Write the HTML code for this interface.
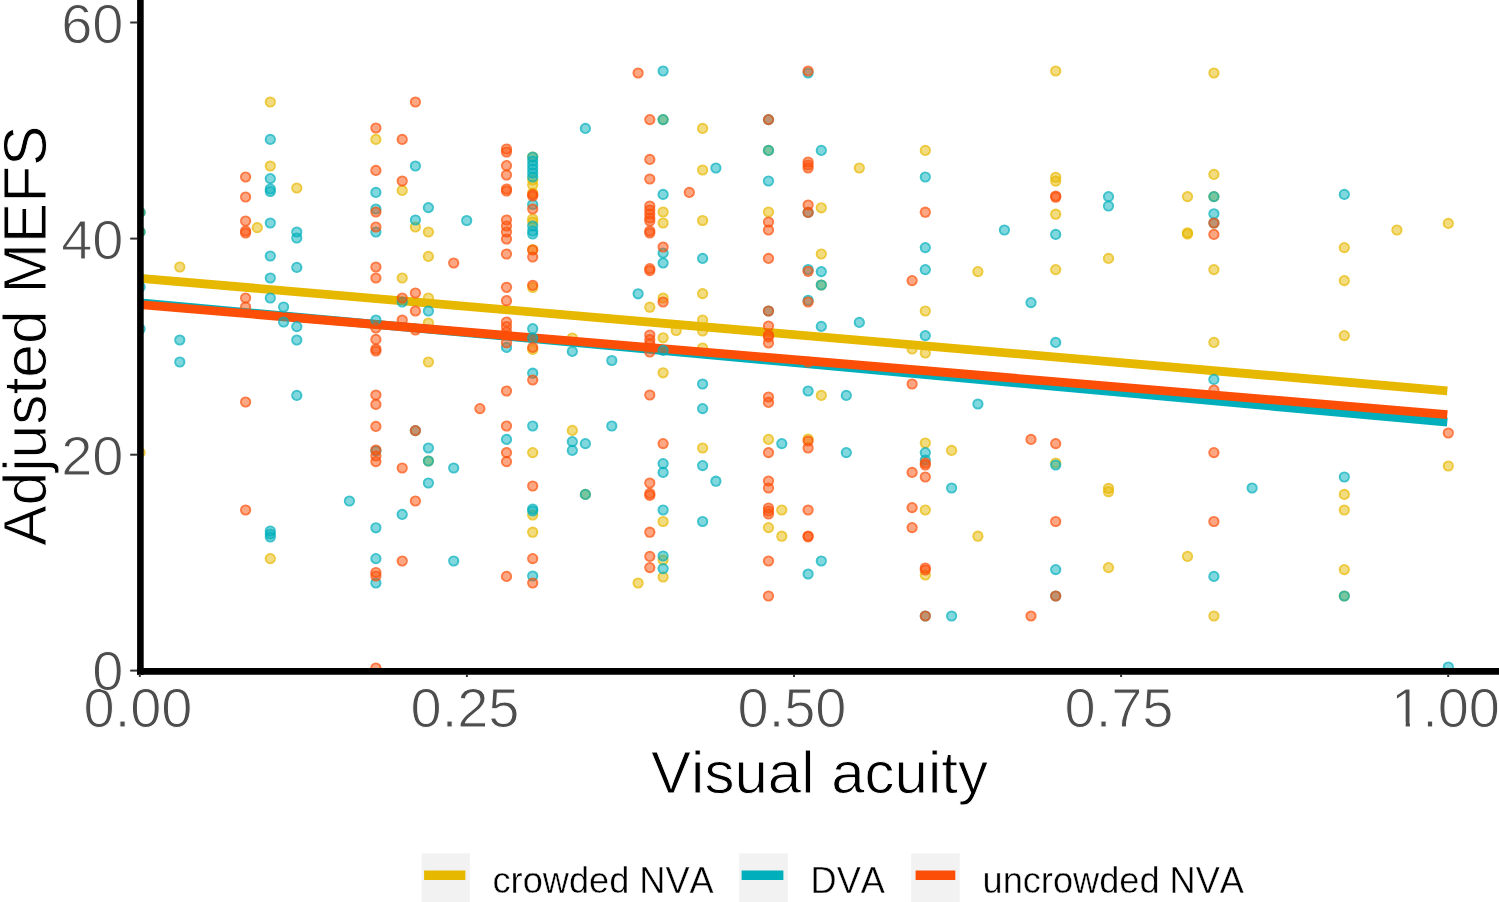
<!DOCTYPE html>
<html><head><meta charset="utf-8"><title>Adjusted MEFS vs Visual acuity</title>
<style>
html,body{margin:0;padding:0;background:#fff;}
body{width:1499px;height:902px;overflow:hidden;position:relative;font-family:"Liberation Sans",sans-serif;}
svg{position:absolute;left:0;top:0;display:block;}
text{font-family:"Liberation Sans",sans-serif;font-kerning:none;}
.tick{font-size:56px;fill:#4D4D4D;stroke:#fff;stroke-width:1px;}
.title{font-size:60px;fill:#000;stroke:#fff;stroke-width:.9px;}
.leg{font-size:36.2px;fill:#000;stroke:#fff;stroke-width:.4px;}
</style></head><body>
<svg width="1499" height="902" viewBox="0 0 1499 902">
<rect width="1499" height="902" fill="#fff"/>
<defs><radialGradient id="gy"><stop offset="0" stop-color="#E7B800" stop-opacity=".5"/><stop offset=".6" stop-color="#E7B800" stop-opacity=".5"/><stop offset=".68" stop-color="#E7B800" stop-opacity=".75"/><stop offset="1" stop-color="#E7B800" stop-opacity=".75"/></radialGradient><radialGradient id="gt"><stop offset="0" stop-color="#00AFBB" stop-opacity=".5"/><stop offset=".6" stop-color="#00AFBB" stop-opacity=".5"/><stop offset=".68" stop-color="#00AFBB" stop-opacity=".75"/><stop offset="1" stop-color="#00AFBB" stop-opacity=".75"/></radialGradient><radialGradient id="go"><stop offset="0" stop-color="#FC4E07" stop-opacity=".5"/><stop offset=".6" stop-color="#FC4E07" stop-opacity=".5"/><stop offset=".68" stop-color="#FC4E07" stop-opacity=".75"/><stop offset="1" stop-color="#FC4E07" stop-opacity=".75"/></radialGradient><clipPath id="panel"><rect x="140.4" y="-10" width="1400" height="681.4"/></clipPath></defs>
<g clip-path="url(#panel)" fill="url(#gy)"><circle cx="140.1" cy="212.4" r="5.6"/><circle cx="140.1" cy="232.0" r="5.6"/><circle cx="140.1" cy="452.6" r="5.6"/><circle cx="179.8" cy="267.0" r="5.6"/><circle cx="257.3" cy="227.6" r="5.6"/><circle cx="270.3" cy="102.0" r="5.6"/><circle cx="270.3" cy="166.0" r="5.6"/><circle cx="270.3" cy="558.6" r="5.6"/><circle cx="296.8" cy="188.0" r="5.6"/><circle cx="375.9" cy="139.4" r="5.6"/><circle cx="402.2" cy="190.4" r="5.6"/><circle cx="402.2" cy="278.0" r="5.6"/><circle cx="415.4" cy="227.0" r="5.6"/><circle cx="428.4" cy="232.0" r="5.6"/><circle cx="428.4" cy="256.4" r="5.6"/><circle cx="428.4" cy="298.0" r="5.6"/><circle cx="428.4" cy="323.0" r="5.6"/><circle cx="428.4" cy="362.0" r="5.6"/><circle cx="428.4" cy="461.0" r="5.6"/><circle cx="532.7" cy="157.0" r="5.6"/><circle cx="532.7" cy="180.0" r="5.6"/><circle cx="532.7" cy="185.0" r="5.6"/><circle cx="532.7" cy="193.0" r="5.6"/><circle cx="532.7" cy="219.0" r="5.6"/><circle cx="532.7" cy="222.0" r="5.6"/><circle cx="532.7" cy="287.5" r="5.6"/><circle cx="532.7" cy="349.4" r="5.6"/><circle cx="532.7" cy="452.6" r="5.6"/><circle cx="532.7" cy="515.0" r="5.6"/><circle cx="532.7" cy="532.2" r="5.6"/><circle cx="572.3" cy="338.0" r="5.6"/><circle cx="572.3" cy="430.4" r="5.6"/><circle cx="585.4" cy="494.4" r="5.6"/><circle cx="638.1" cy="583.0" r="5.6"/><circle cx="649.8" cy="307.2" r="5.6"/><circle cx="663.1" cy="119.6" r="5.6"/><circle cx="663.1" cy="212.0" r="5.6"/><circle cx="663.1" cy="223.0" r="5.6"/><circle cx="663.1" cy="298.0" r="5.6"/><circle cx="663.1" cy="337.8" r="5.6"/><circle cx="663.1" cy="372.8" r="5.6"/><circle cx="663.1" cy="521.5" r="5.6"/><circle cx="663.1" cy="560.0" r="5.6"/><circle cx="663.1" cy="577.0" r="5.6"/><circle cx="676.2" cy="330.5" r="5.6"/><circle cx="702.6" cy="128.4" r="5.6"/><circle cx="702.6" cy="170.0" r="5.6"/><circle cx="702.6" cy="220.5" r="5.6"/><circle cx="702.6" cy="293.6" r="5.6"/><circle cx="702.6" cy="320.0" r="5.6"/><circle cx="702.6" cy="331.0" r="5.6"/><circle cx="702.6" cy="348.0" r="5.6"/><circle cx="702.6" cy="448.0" r="5.6"/><circle cx="768.5" cy="150.4" r="5.6"/><circle cx="768.5" cy="212.0" r="5.6"/><circle cx="768.5" cy="439.4" r="5.6"/><circle cx="768.5" cy="527.6" r="5.6"/><circle cx="781.8" cy="510.0" r="5.6"/><circle cx="781.8" cy="536.2" r="5.6"/><circle cx="808.1" cy="439.0" r="5.6"/><circle cx="821.3" cy="207.8" r="5.6"/><circle cx="821.3" cy="254.0" r="5.6"/><circle cx="821.3" cy="285.0" r="5.6"/><circle cx="821.3" cy="395.4" r="5.6"/><circle cx="859.3" cy="168.0" r="5.6"/><circle cx="912.1" cy="349.0" r="5.6"/><circle cx="925.3" cy="150.4" r="5.6"/><circle cx="925.3" cy="311.0" r="5.6"/><circle cx="925.3" cy="353.0" r="5.6"/><circle cx="925.3" cy="443.0" r="5.6"/><circle cx="925.3" cy="510.0" r="5.6"/><circle cx="925.3" cy="575.0" r="5.6"/><circle cx="951.6" cy="450.4" r="5.6"/><circle cx="977.9" cy="271.6" r="5.6"/><circle cx="977.9" cy="536.2" r="5.6"/><circle cx="1055.7" cy="71.0" r="5.6"/><circle cx="1055.7" cy="177.3" r="5.6"/><circle cx="1055.7" cy="181.1" r="5.6"/><circle cx="1055.7" cy="214.2" r="5.6"/><circle cx="1055.7" cy="269.6" r="5.6"/><circle cx="1055.7" cy="463.0" r="5.6"/><circle cx="1108.5" cy="258.4" r="5.6"/><circle cx="1108.5" cy="488.3" r="5.6"/><circle cx="1108.5" cy="491.7" r="5.6"/><circle cx="1108.5" cy="567.6" r="5.6"/><circle cx="1187.5" cy="196.6" r="5.6"/><circle cx="1187.5" cy="232.8" r="5.6"/><circle cx="1187.5" cy="234.0" r="5.6"/><circle cx="1187.5" cy="556.4" r="5.6"/><circle cx="1213.9" cy="73.0" r="5.6"/><circle cx="1213.9" cy="174.4" r="5.6"/><circle cx="1213.9" cy="196.6" r="5.6"/><circle cx="1213.9" cy="269.6" r="5.6"/><circle cx="1213.9" cy="342.4" r="5.6"/><circle cx="1213.9" cy="616.0" r="5.6"/><circle cx="1344.3" cy="247.6" r="5.6"/><circle cx="1344.3" cy="280.6" r="5.6"/><circle cx="1344.3" cy="335.6" r="5.6"/><circle cx="1344.3" cy="494.4" r="5.6"/><circle cx="1344.3" cy="510.0" r="5.6"/><circle cx="1344.3" cy="569.6" r="5.6"/><circle cx="1344.3" cy="596.0" r="5.6"/><circle cx="1396.9" cy="230.0" r="5.6"/><circle cx="1448.3" cy="223.4" r="5.6"/><circle cx="1448.3" cy="466.0" r="5.6"/><circle cx="532.7" cy="249.5" r="5.6"/></g>
<g fill="none" stroke-width="8.8" stroke-linecap="butt">
<line x1="140.4" y1="278.3" x2="1447.3" y2="390.8" stroke="#E7B800"/>
<line x1="140.4" y1="302.9" x2="1447.3" y2="422.2" stroke="#00AFBB"/>
<line x1="140.4" y1="304.7" x2="1447.3" y2="414.6" stroke="#FC4E07"/>
</g>
<g clip-path="url(#panel)" fill="url(#gt)"><circle cx="140.1" cy="212.4" r="5.6"/><circle cx="140.1" cy="232.0" r="5.6"/><circle cx="140.1" cy="287.0" r="5.6"/><circle cx="140.1" cy="329.0" r="5.6"/><circle cx="179.8" cy="340.0" r="5.6"/><circle cx="179.8" cy="362.0" r="5.6"/><circle cx="270.3" cy="139.4" r="5.6"/><circle cx="270.3" cy="178.6" r="5.6"/><circle cx="270.3" cy="189.0" r="5.6"/><circle cx="270.3" cy="191.5" r="5.6"/><circle cx="270.3" cy="223.0" r="5.6"/><circle cx="270.3" cy="256.0" r="5.6"/><circle cx="270.3" cy="278.0" r="5.6"/><circle cx="270.3" cy="298.0" r="5.6"/><circle cx="270.3" cy="531.0" r="5.6"/><circle cx="270.3" cy="534.0" r="5.6"/><circle cx="270.3" cy="537.0" r="5.6"/><circle cx="283.6" cy="307.0" r="5.6"/><circle cx="283.6" cy="322.0" r="5.6"/><circle cx="296.8" cy="232.0" r="5.6"/><circle cx="296.8" cy="238.0" r="5.6"/><circle cx="296.8" cy="267.4" r="5.6"/><circle cx="296.8" cy="326.6" r="5.6"/><circle cx="296.8" cy="340.0" r="5.6"/><circle cx="296.8" cy="395.4" r="5.6"/><circle cx="349.4" cy="501.0" r="5.6"/><circle cx="375.9" cy="192.4" r="5.6"/><circle cx="375.9" cy="209.0" r="5.6"/><circle cx="375.9" cy="232.0" r="5.6"/><circle cx="375.9" cy="320.0" r="5.6"/><circle cx="375.9" cy="451.0" r="5.6"/><circle cx="375.9" cy="527.8" r="5.6"/><circle cx="375.9" cy="558.6" r="5.6"/><circle cx="375.9" cy="583.0" r="5.6"/><circle cx="402.2" cy="302.0" r="5.6"/><circle cx="402.2" cy="514.4" r="5.6"/><circle cx="415.4" cy="166.0" r="5.6"/><circle cx="415.4" cy="220.0" r="5.6"/><circle cx="415.4" cy="430.6" r="5.6"/><circle cx="428.4" cy="207.6" r="5.6"/><circle cx="428.4" cy="311.0" r="5.6"/><circle cx="428.4" cy="448.0" r="5.6"/><circle cx="428.4" cy="461.0" r="5.6"/><circle cx="428.4" cy="483.0" r="5.6"/><circle cx="453.7" cy="468.0" r="5.6"/><circle cx="453.7" cy="561.0" r="5.6"/><circle cx="466.7" cy="220.5" r="5.6"/><circle cx="506.5" cy="347.4" r="5.6"/><circle cx="506.5" cy="439.4" r="5.6"/><circle cx="532.7" cy="157.0" r="5.6"/><circle cx="532.7" cy="161.0" r="5.6"/><circle cx="532.7" cy="165.0" r="5.6"/><circle cx="532.7" cy="169.0" r="5.6"/><circle cx="532.7" cy="173.0" r="5.6"/><circle cx="532.7" cy="177.0" r="5.6"/><circle cx="532.7" cy="204.5" r="5.6"/><circle cx="532.7" cy="226.0" r="5.6"/><circle cx="532.7" cy="231.0" r="5.6"/><circle cx="532.7" cy="234.0" r="5.6"/><circle cx="532.7" cy="328.7" r="5.6"/><circle cx="532.7" cy="338.0" r="5.6"/><circle cx="532.7" cy="373.2" r="5.6"/><circle cx="532.7" cy="426.0" r="5.6"/><circle cx="532.7" cy="509.0" r="5.6"/><circle cx="532.7" cy="511.0" r="5.6"/><circle cx="532.7" cy="576.0" r="5.6"/><circle cx="572.3" cy="351.4" r="5.6"/><circle cx="572.3" cy="441.6" r="5.6"/><circle cx="572.3" cy="450.4" r="5.6"/><circle cx="585.4" cy="128.4" r="5.6"/><circle cx="585.4" cy="443.6" r="5.6"/><circle cx="585.4" cy="494.4" r="5.6"/><circle cx="611.8" cy="360.5" r="5.6"/><circle cx="611.8" cy="426.0" r="5.6"/><circle cx="638.1" cy="293.8" r="5.6"/><circle cx="663.1" cy="71.0" r="5.6"/><circle cx="663.1" cy="119.6" r="5.6"/><circle cx="663.1" cy="194.4" r="5.6"/><circle cx="663.1" cy="253.0" r="5.6"/><circle cx="663.1" cy="263.0" r="5.6"/><circle cx="663.1" cy="350.4" r="5.6"/><circle cx="663.1" cy="463.6" r="5.6"/><circle cx="663.1" cy="472.4" r="5.6"/><circle cx="663.1" cy="510.0" r="5.6"/><circle cx="663.1" cy="556.0" r="5.6"/><circle cx="663.1" cy="568.6" r="5.6"/><circle cx="702.6" cy="258.4" r="5.6"/><circle cx="702.6" cy="384.0" r="5.6"/><circle cx="702.6" cy="408.6" r="5.6"/><circle cx="702.6" cy="465.6" r="5.6"/><circle cx="702.6" cy="521.5" r="5.6"/><circle cx="715.9" cy="168.0" r="5.6"/><circle cx="715.9" cy="481.2" r="5.6"/><circle cx="768.5" cy="119.6" r="5.6"/><circle cx="768.5" cy="150.4" r="5.6"/><circle cx="768.5" cy="181.0" r="5.6"/><circle cx="768.5" cy="311.0" r="5.6"/><circle cx="781.8" cy="443.6" r="5.6"/><circle cx="808.1" cy="73.0" r="5.6"/><circle cx="808.1" cy="212.4" r="5.6"/><circle cx="808.1" cy="269.5" r="5.6"/><circle cx="808.1" cy="300.3" r="5.6"/><circle cx="808.1" cy="391.0" r="5.6"/><circle cx="808.1" cy="574.0" r="5.6"/><circle cx="821.3" cy="150.4" r="5.6"/><circle cx="821.3" cy="271.6" r="5.6"/><circle cx="821.3" cy="285.0" r="5.6"/><circle cx="821.3" cy="326.4" r="5.6"/><circle cx="821.3" cy="561.0" r="5.6"/><circle cx="846.3" cy="395.4" r="5.6"/><circle cx="846.3" cy="452.6" r="5.6"/><circle cx="859.3" cy="322.4" r="5.6"/><circle cx="925.3" cy="177.0" r="5.6"/><circle cx="925.3" cy="247.6" r="5.6"/><circle cx="925.3" cy="269.6" r="5.6"/><circle cx="925.3" cy="335.6" r="5.6"/><circle cx="925.3" cy="452.6" r="5.6"/><circle cx="925.3" cy="460.0" r="5.6"/><circle cx="925.3" cy="616.0" r="5.6"/><circle cx="951.6" cy="488.0" r="5.6"/><circle cx="951.6" cy="616.0" r="5.6"/><circle cx="977.9" cy="404.0" r="5.6"/><circle cx="1004.4" cy="230.0" r="5.6"/><circle cx="1031.0" cy="302.6" r="5.6"/><circle cx="1055.7" cy="234.4" r="5.6"/><circle cx="1055.7" cy="342.4" r="5.6"/><circle cx="1055.7" cy="465.0" r="5.6"/><circle cx="1055.7" cy="569.6" r="5.6"/><circle cx="1055.7" cy="596.0" r="5.6"/><circle cx="1108.5" cy="196.6" r="5.6"/><circle cx="1108.5" cy="206.0" r="5.6"/><circle cx="1213.9" cy="196.6" r="5.6"/><circle cx="1213.9" cy="213.8" r="5.6"/><circle cx="1213.9" cy="223.0" r="5.6"/><circle cx="1213.9" cy="379.4" r="5.6"/><circle cx="1213.9" cy="576.4" r="5.6"/><circle cx="1252.1" cy="488.0" r="5.6"/><circle cx="1344.3" cy="194.4" r="5.6"/><circle cx="1344.3" cy="477.0" r="5.6"/><circle cx="1344.3" cy="596.0" r="5.6"/><circle cx="1448.3" cy="667.0" r="5.6"/></g>
<g clip-path="url(#panel)" fill="url(#go)"><circle cx="245.6" cy="177.0" r="5.6"/><circle cx="245.6" cy="197.0" r="5.6"/><circle cx="245.6" cy="221.0" r="5.6"/><circle cx="245.6" cy="231.0" r="5.6"/><circle cx="245.6" cy="233.0" r="5.6"/><circle cx="245.6" cy="298.0" r="5.6"/><circle cx="245.6" cy="307.0" r="5.6"/><circle cx="245.6" cy="402.0" r="5.6"/><circle cx="245.6" cy="510.0" r="5.6"/><circle cx="375.9" cy="128.0" r="5.6"/><circle cx="375.9" cy="170.4" r="5.6"/><circle cx="375.9" cy="212.0" r="5.6"/><circle cx="375.9" cy="227.0" r="5.6"/><circle cx="375.9" cy="267.0" r="5.6"/><circle cx="375.9" cy="278.0" r="5.6"/><circle cx="375.9" cy="328.0" r="5.6"/><circle cx="375.9" cy="339.4" r="5.6"/><circle cx="375.9" cy="349.0" r="5.6"/><circle cx="375.9" cy="351.0" r="5.6"/><circle cx="375.9" cy="395.0" r="5.6"/><circle cx="375.9" cy="404.4" r="5.6"/><circle cx="375.9" cy="426.4" r="5.6"/><circle cx="375.9" cy="450.0" r="5.6"/><circle cx="375.9" cy="456.0" r="5.6"/><circle cx="375.9" cy="461.6" r="5.6"/><circle cx="375.9" cy="572.5" r="5.6"/><circle cx="375.9" cy="576.0" r="5.6"/><circle cx="375.9" cy="668.0" r="5.6"/><circle cx="402.2" cy="139.4" r="5.6"/><circle cx="402.2" cy="181.0" r="5.6"/><circle cx="402.2" cy="298.0" r="5.6"/><circle cx="402.2" cy="320.0" r="5.6"/><circle cx="402.2" cy="468.0" r="5.6"/><circle cx="402.2" cy="561.0" r="5.6"/><circle cx="415.4" cy="102.0" r="5.6"/><circle cx="415.4" cy="293.0" r="5.6"/><circle cx="415.4" cy="311.0" r="5.6"/><circle cx="415.4" cy="330.0" r="5.6"/><circle cx="415.4" cy="430.6" r="5.6"/><circle cx="415.4" cy="501.0" r="5.6"/><circle cx="453.7" cy="263.0" r="5.6"/><circle cx="479.9" cy="408.6" r="5.6"/><circle cx="506.5" cy="149.0" r="5.6"/><circle cx="506.5" cy="152.0" r="5.6"/><circle cx="506.5" cy="165.6" r="5.6"/><circle cx="506.5" cy="175.0" r="5.6"/><circle cx="506.5" cy="189.0" r="5.6"/><circle cx="506.5" cy="191.0" r="5.6"/><circle cx="506.5" cy="220.0" r="5.6"/><circle cx="506.5" cy="226.0" r="5.6"/><circle cx="506.5" cy="232.0" r="5.6"/><circle cx="506.5" cy="239.0" r="5.6"/><circle cx="506.5" cy="254.0" r="5.6"/><circle cx="506.5" cy="287.3" r="5.6"/><circle cx="506.5" cy="300.7" r="5.6"/><circle cx="506.5" cy="322.0" r="5.6"/><circle cx="506.5" cy="326.7" r="5.6"/><circle cx="506.5" cy="332.0" r="5.6"/><circle cx="506.5" cy="342.7" r="5.6"/><circle cx="506.5" cy="391.0" r="5.6"/><circle cx="506.5" cy="426.0" r="5.6"/><circle cx="506.5" cy="452.6" r="5.6"/><circle cx="506.5" cy="461.6" r="5.6"/><circle cx="506.5" cy="576.4" r="5.6"/><circle cx="532.7" cy="194.4" r="5.6"/><circle cx="532.7" cy="196.0" r="5.6"/><circle cx="532.7" cy="209.0" r="5.6"/><circle cx="532.7" cy="250.0" r="5.6"/><circle cx="532.7" cy="257.0" r="5.6"/><circle cx="532.7" cy="285.3" r="5.6"/><circle cx="532.7" cy="347.4" r="5.6"/><circle cx="532.7" cy="380.0" r="5.6"/><circle cx="532.7" cy="486.0" r="5.6"/><circle cx="532.7" cy="558.6" r="5.6"/><circle cx="532.7" cy="583.0" r="5.6"/><circle cx="638.1" cy="73.0" r="5.6"/><circle cx="649.8" cy="119.6" r="5.6"/><circle cx="649.8" cy="159.4" r="5.6"/><circle cx="649.8" cy="179.0" r="5.6"/><circle cx="649.8" cy="206.0" r="5.6"/><circle cx="649.8" cy="210.0" r="5.6"/><circle cx="649.8" cy="214.0" r="5.6"/><circle cx="649.8" cy="218.0" r="5.6"/><circle cx="649.8" cy="221.0" r="5.6"/><circle cx="649.8" cy="231.0" r="5.6"/><circle cx="649.8" cy="233.0" r="5.6"/><circle cx="649.8" cy="268.6" r="5.6"/><circle cx="649.8" cy="270.6" r="5.6"/><circle cx="649.8" cy="335.0" r="5.6"/><circle cx="649.8" cy="339.7" r="5.6"/><circle cx="649.8" cy="344.0" r="5.6"/><circle cx="649.8" cy="352.0" r="5.6"/><circle cx="649.8" cy="395.0" r="5.6"/><circle cx="649.8" cy="483.0" r="5.6"/><circle cx="649.8" cy="493.4" r="5.6"/><circle cx="649.8" cy="495.4" r="5.6"/><circle cx="649.8" cy="532.2" r="5.6"/><circle cx="649.8" cy="556.4" r="5.6"/><circle cx="649.8" cy="567.6" r="5.6"/><circle cx="663.1" cy="247.0" r="5.6"/><circle cx="663.1" cy="302.0" r="5.6"/><circle cx="663.1" cy="443.6" r="5.6"/><circle cx="689.3" cy="192.4" r="5.6"/><circle cx="768.5" cy="119.6" r="5.6"/><circle cx="768.5" cy="222.0" r="5.6"/><circle cx="768.5" cy="230.0" r="5.6"/><circle cx="768.5" cy="258.4" r="5.6"/><circle cx="768.5" cy="311.0" r="5.6"/><circle cx="768.5" cy="326.0" r="5.6"/><circle cx="768.5" cy="335.0" r="5.6"/><circle cx="768.5" cy="337.0" r="5.6"/><circle cx="768.5" cy="343.0" r="5.6"/><circle cx="768.5" cy="397.0" r="5.6"/><circle cx="768.5" cy="402.4" r="5.6"/><circle cx="768.5" cy="452.6" r="5.6"/><circle cx="768.5" cy="481.0" r="5.6"/><circle cx="768.5" cy="488.0" r="5.6"/><circle cx="768.5" cy="508.0" r="5.6"/><circle cx="768.5" cy="511.0" r="5.6"/><circle cx="768.5" cy="514.0" r="5.6"/><circle cx="768.5" cy="561.0" r="5.6"/><circle cx="768.5" cy="596.0" r="5.6"/><circle cx="808.1" cy="71.0" r="5.6"/><circle cx="808.1" cy="162.0" r="5.6"/><circle cx="808.1" cy="165.0" r="5.6"/><circle cx="808.1" cy="168.0" r="5.6"/><circle cx="808.1" cy="205.0" r="5.6"/><circle cx="808.1" cy="212.4" r="5.6"/><circle cx="808.1" cy="271.3" r="5.6"/><circle cx="808.1" cy="302.0" r="5.6"/><circle cx="808.1" cy="362.0" r="5.6"/><circle cx="808.1" cy="441.0" r="5.6"/><circle cx="808.1" cy="448.0" r="5.6"/><circle cx="808.1" cy="510.0" r="5.6"/><circle cx="808.1" cy="536.0" r="5.6"/><circle cx="808.1" cy="536.8" r="5.6"/><circle cx="912.1" cy="280.6" r="5.6"/><circle cx="912.1" cy="384.0" r="5.6"/><circle cx="912.1" cy="472.4" r="5.6"/><circle cx="912.1" cy="507.6" r="5.6"/><circle cx="912.1" cy="527.6" r="5.6"/><circle cx="925.3" cy="212.2" r="5.6"/><circle cx="925.3" cy="463.0" r="5.6"/><circle cx="925.3" cy="465.0" r="5.6"/><circle cx="925.3" cy="477.0" r="5.6"/><circle cx="925.3" cy="568.0" r="5.6"/><circle cx="925.3" cy="570.0" r="5.6"/><circle cx="925.3" cy="616.0" r="5.6"/><circle cx="1031.0" cy="439.4" r="5.6"/><circle cx="1031.0" cy="616.0" r="5.6"/><circle cx="1055.7" cy="196.0" r="5.6"/><circle cx="1055.7" cy="197.2" r="5.6"/><circle cx="1055.7" cy="443.6" r="5.6"/><circle cx="1055.7" cy="521.5" r="5.6"/><circle cx="1055.7" cy="596.0" r="5.6"/><circle cx="1213.9" cy="223.0" r="5.6"/><circle cx="1213.9" cy="234.4" r="5.6"/><circle cx="1213.9" cy="390.0" r="5.6"/><circle cx="1213.9" cy="452.6" r="5.6"/><circle cx="1213.9" cy="521.5" r="5.6"/><circle cx="1448.3" cy="433.0" r="5.6"/></g>
<g stroke="#000" stroke-width="6.6" fill="none">
<line x1="140.4" y1="-5" x2="140.4" y2="674.7"/>
<line x1="137.1" y1="671.4" x2="1505" y2="671.4"/>
</g>
<g stroke="#333" stroke-width="2" fill="none">
<line x1="130.2" y1="22.5" x2="137.2" y2="22.5"/>
<line x1="130.2" y1="238.6" x2="137.2" y2="238.6"/>
<line x1="130.2" y1="454.7" x2="137.2" y2="454.7"/>
<line x1="130.2" y1="670.6" x2="137.2" y2="670.6"/>
<line x1="139.8" y1="674" x2="139.8" y2="677"/>
<line x1="466.9" y1="674" x2="466.9" y2="677"/>
<line x1="794.0" y1="674" x2="794.0" y2="677"/>
<line x1="1121.1" y1="674" x2="1121.1" y2="677"/>
<line x1="1448.2" y1="674" x2="1448.2" y2="677"/>
</g>
<g class="tick" text-anchor="middle">
<text x="138.0" y="727">0.00</text>
<text x="465.0" y="727">0.25</text>
<text x="792.0" y="727">0.50</text>
<text x="1119.0" y="727">0.75</text>
<text x="1445.5" y="727">1.00</text>
</g>
<rect x="1394.5" y="722.3" width="11.2" height="5.4" fill="#fff"/><rect x="1409.9" y="722.3" width="10" height="5.4" fill="#fff"/>
<g class="tick" text-anchor="end">
<text x="123.5" y="43.0">60</text>
<text x="123.5" y="259.3">40</text>
<text x="123.5" y="475.4">20</text>
<text x="123.5" y="689.5">0</text>
</g>
<text class="title" x="819.5" y="792.6" text-anchor="middle">Visual acuity</text>
<text class="title" transform="translate(46.3,335.7) rotate(-90)" style="font-size:60.5px" text-anchor="middle">Adjusted MEFS</text>
<g>
<rect x="421.6" y="853.4" width="48.3" height="50" fill="#F2F2F2"/>
<rect x="739.2" y="853.4" width="48.6" height="50" fill="#F2F2F2"/>
<rect x="911.1" y="853.4" width="48.6" height="50" fill="#F2F2F2"/>
<line x1="424.1" y1="875.3" x2="465.4" y2="875.3" stroke="#E7B800" stroke-width="9.4"/>
<line x1="741.6" y1="875.3" x2="783.4" y2="875.3" stroke="#00AFBB" stroke-width="9.4"/>
<line x1="915.6" y1="875.3" x2="955.3" y2="875.3" stroke="#FC4E07" stroke-width="9.4"/>
<text class="leg" x="492.5" y="893">crowded NVA</text>
<text class="leg" x="810.5" y="893">DVA</text>
<text class="leg" x="982.5" y="893">uncrowded NVA</text>
</g>
</svg>
</body></html>
